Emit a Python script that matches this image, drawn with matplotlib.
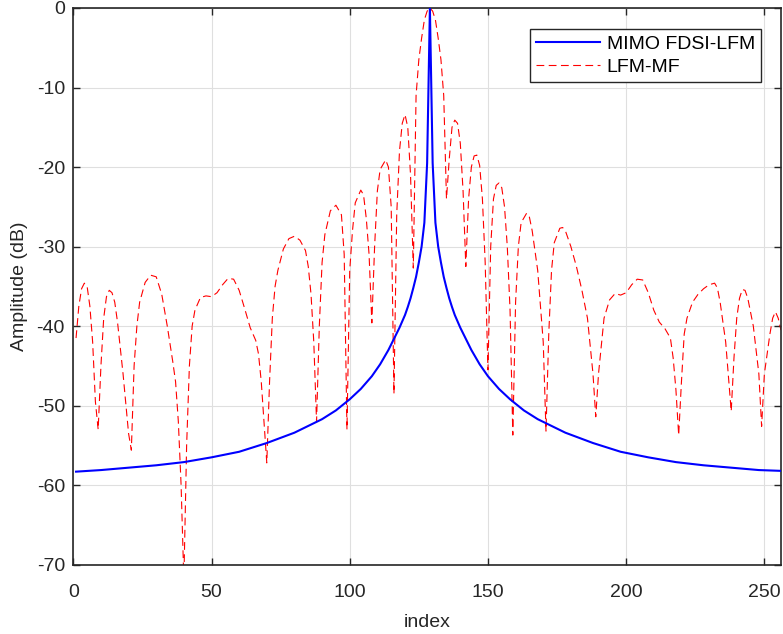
import matplotlib
matplotlib.use("Agg")
import matplotlib.pyplot as plt

plt.rcParams['font.family'] = ['Liberation Sans', 'DejaVu Sans']
plt.rcParams['axes.unicode_minus'] = False

# MIMO FDSI-LFM (blue, solid)
mimo_idx = [1, 10, 20, 30, 40, 50, 60, 70, 80, 90, 95, 100, 104, 108, 111, 114, 116,
            118, 120, 121, 122, 123, 124, 125, 126, 127, 128, 129,
            130, 131, 132, 133, 134, 135, 136, 137, 138, 140, 142, 144, 147, 150, 154,
            158, 163, 168, 178, 188, 198, 208, 218, 228, 238, 248, 256]
mimo_db = [-58.3, -58.1, -57.8, -57.5, -57.1, -56.5, -55.8, -54.7, -53.4, -51.7,
           -50.6, -49.2, -47.9, -46.3, -44.8, -43.0, -41.6, -40.2, -38.6, -37.6,
           -36.5, -35.2, -33.8, -32.0, -30.0, -27.0, -19.5, 0.0,
           -19.5, -27.0, -30.0, -32.0, -33.8, -35.2, -36.5, -37.6, -38.6, -40.2,
           -41.6, -43.0, -44.8, -46.3, -47.9, -49.2, -50.6, -51.7, -53.4, -54.7,
           -55.8, -56.5, -57.1, -57.5, -57.8, -58.1, -58.2]

# LFM-MF (red, dashed)
lfm_idx = [1, 2, 3, 4, 5, 6, 7, 8, 9,
           10, 11, 12, 13, 14, 15, 16, 18, 20, 21,
           22, 23, 24, 26, 28, 30, 32, 34, 36, 37, 38, 39, 40,
           41, 42, 43, 44, 46, 48, 50, 52, 54, 56, 58, 60, 62, 64, 66, 67, 68, 69, 70,
           71, 72, 73, 74, 76, 78, 80, 82, 84, 85, 86, 87, 88,
           89, 90, 91, 93, 95, 97, 98, 99,
           100, 101, 102, 104, 105, 106, 107, 108,
           109, 110, 111, 113, 114, 115, 116,
           117, 118, 119, 120, 121, 122, 123,
           124, 125, 126, 127, 128, 129, 130, 131, 132, 133, 134, 135,
           136, 137, 138, 139, 140, 141, 142,
           143, 144, 145, 146, 147, 148, 149, 150,
           151, 152, 153, 154, 155, 156, 157, 158, 159,
           160, 161, 162, 164, 165, 166, 168, 170, 171,
           172, 173, 174, 176, 177, 178, 180, 182, 184, 186, 188, 189,
           190, 192, 194, 196, 198, 200, 202, 204, 206, 208, 210, 212, 214, 216, 217, 218, 219,
           220, 221, 222, 224, 226, 228, 230, 232, 233, 234, 236, 238,
           239, 240, 241, 242, 243, 244, 246, 248, 249,
           250, 252, 253, 254, 255, 256]
lfm_db = [-41.5, -37.5, -35.3, -34.6, -35.0, -37.5, -42.0, -49.5, -53.0,
          -45.0, -39.0, -36.3, -35.5, -35.8, -37.0, -39.5, -46.0, -53.5, -55.6,
          -45.0, -40.0, -37.0, -34.5, -33.6, -33.8, -36.0, -40.0, -44.5, -47.0, -52.0, -60.0, -72.0,
          -55.0, -45.0, -40.0, -38.0, -36.4, -36.2, -36.3, -35.8, -34.8, -34.0, -34.1, -35.5,
          -37.8, -40.2, -41.8, -43.5, -47.0, -52.0, -57.2,
          -47.0, -39.0, -35.0, -33.0, -30.3, -29.0, -28.7, -29.2, -30.5, -32.5, -36.0, -42.0, -52.0,
          -40.0, -32.0, -28.5, -25.5, -24.8, -26.0, -31.0, -53.0,
          -33.0, -28.0, -24.5, -22.9, -23.5, -26.5, -31.0, -39.6,
          -30.0, -23.0, -20.3, -19.1, -20.0, -25.0, -48.5,
          -26.0, -18.0, -14.5, -13.4, -15.0, -21.0, -32.7,
          -11.0, -6.5, -3.8, -1.5, -0.4, 0.0, -0.4, -1.5, -3.8, -6.5, -11.0, -24.0,
          -19.0, -15.0, -14.1, -14.5, -17.0, -23.0, -32.5,
          -24.0, -20.0, -18.6, -18.5, -19.8, -24.0, -32.0, -45.5,
          -30.0, -24.0, -22.3, -22.0, -22.6, -25.0, -30.0, -38.0, -53.7,
          -37.0, -30.0, -27.0, -25.8, -26.3, -28.0, -33.0, -42.0, -53.2,
          -41.0, -33.0, -29.5, -27.7, -27.6, -28.0, -30.0, -32.5, -35.5, -39.0, -46.0, -51.4,
          -46.0, -39.0, -36.7, -35.9, -36.1, -35.8, -34.8, -34.1, -34.2, -35.8, -38.0, -39.5,
          -40.3, -41.5, -44.0, -48.0, -53.7,
          -47.0, -41.0, -39.0, -37.0, -36.0, -35.3, -34.8, -34.6, -35.2, -37.0, -42.0, -50.7,
          -44.0, -39.0, -36.5, -35.4, -35.5, -36.5, -40.0, -46.0, -52.6,
          -46.0, -41.0, -39.0, -38.2, -39.0, -40.5]

x_ticks = [0, 50, 100, 150, 200, 250]
y_ticks = [-70, -60, -50, -40, -30, -20, -10, 0]

ink = '#262626'

fig = plt.figure(figsize=(7.83, 6.34), dpi=100)
ax = fig.add_axes([0.0936, 0.1093, 0.9038, 0.8781])

ax.plot(mimo_idx, mimo_db, color='blue', lw=1.5, label='MIMO FDSI-LFM', zorder=3)
ax.plot(lfm_idx, lfm_db, color='red', lw=0.8, dashes=(7, 4), label='LFM-MF', zorder=2)

ax.set_xlim(0, 256)
ax.set_ylim(-70, 0)
ax.set_xticks(x_ticks)
ax.set_yticks(y_ticks)
ax.grid(True, color='#dfdfdf', lw=0.8)
ax.set_axisbelow(True)

ax.tick_params(direction='in', top=True, right=True, length=5, width=1.0,
               colors=ink, labelsize=14, pad=6)
ax.tick_params(axis='x', pad=14)
for s in ax.spines.values():
    s.set_color(ink)
    s.set_linewidth(1.2)

ax.set_xlabel('index', fontsize=14, color=ink, labelpad=9)
ax.set_ylabel('Amplitude (dB)', fontsize=14, color=ink, labelpad=6)

leg = ax.legend(loc='upper right', bbox_to_anchor=(0.9715, 0.9538),
                bbox_transform=fig.transFigure, borderaxespad=0,
                fontsize=14, handlelength=3.3, handletextpad=0.35,
                borderpad=0.3, labelspacing=0.3, fancybox=False, framealpha=1)
leg.get_frame().set_edgecolor(ink)
leg.get_frame().set_linewidth(1.0)

fig.savefig('out.png', dpi=100)
